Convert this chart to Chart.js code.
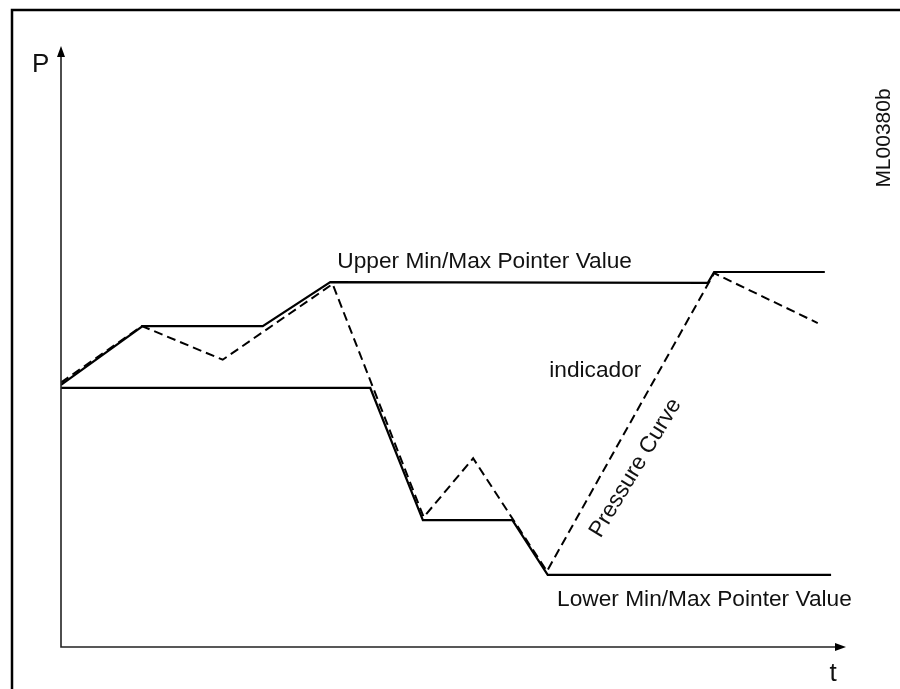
<!DOCTYPE html>
<html>
<head>
<meta charset="utf-8">
<script src="https://cdn.jsdelivr.net/npm/chart.js@4/dist/chart.umd.min.js"></script>
<style>
  body { margin: 0; background: #fff; }
  #chart { display: block; }
</style>
</head>
<body>
<canvas id="chart" width="900" height="689"></canvas>
<script>
// time axis runs 0..100, pressure axis 0..100 (arbitrary units)
const upperTimes = [0, 10.4, 25.7, 34.3, 82.4, 83.2, 97.3];
const upperValues = [43.6, 53.4, 53.4, 60.7, 60.6, 62.4, 62.4];

const lowerTimes = [0, 39.4, 46.1, 57.5, 62.0, 98.1];
const lowerValues = [43.1, 43.1, 21.1, 21.1, 12.0, 12.0];

const pressureTimes = [0, 10.3, 20.6, 34.6, 46.2, 52.5, 61.9, 83.2, 96.4];
const pressureValues = [44.0, 53.4, 47.8, 60.4, 21.6, 31.4, 12.6, 62.2, 53.9];

const FONT = '"Liberation Sans", Arial, Helvetica, sans-serif';

const toPoints = (ts, vs) => ts.map((t, i) => ({ x: t, y: vs[i] }));

// labels placed in data units
const notes = [
  { text: "Upper Min/Max Pointer Value", t: 35.2, p: 63.1, align: "left", rot: 0 },
  { text: "indicador", t: 62.2, p: 44.9, align: "left", rot: 0 },
  { text: "Lower Min/Max Pointer Value", t: 63.2, p: 6.8, align: "left", rot: 0 },
  { text: "Pressure Curve", t: 73.2, p: 29.8, align: "center", rot: -59 }
];

const decorations = {
  id: "decorations",
  afterDraw(chart) {
    const { ctx, chartArea: a, scales } = chart;
    ctx.save();

    // frame
    ctx.strokeStyle = "#000";
    ctx.lineWidth = 2.5;
    ctx.beginPath();
    ctx.moveTo(12, chart.height + 5);
    ctx.lineTo(12, 10);
    ctx.lineTo(chart.width + 5, 10);
    ctx.stroke();

    // axes with arrows
    ctx.strokeStyle = "#222";
    ctx.fillStyle = "#000";
    ctx.lineWidth = 1.6;
    ctx.beginPath();
    ctx.moveTo(a.left, a.top + 8);
    ctx.lineTo(a.left, a.bottom);
    ctx.lineTo(a.right - 8, a.bottom);
    ctx.stroke();
    ctx.beginPath();
    ctx.moveTo(a.left, a.top);
    ctx.lineTo(a.left - 4, a.top + 11);
    ctx.lineTo(a.left + 4, a.top + 11);
    ctx.closePath();
    ctx.fill();
    ctx.beginPath();
    ctx.moveTo(a.right, a.bottom);
    ctx.lineTo(a.right - 11, a.bottom - 4);
    ctx.lineTo(a.right - 11, a.bottom + 4);
    ctx.closePath();
    ctx.fill();

    ctx.fillStyle = "#111";
    ctx.textBaseline = "alphabetic";
    ctx.font = "26px " + FONT;
    ctx.textAlign = "left";
    ctx.fillText("P", a.left - 29, a.top + 26);
    ctx.textAlign = "center";
    ctx.fillText("t", a.right - 13, a.bottom + 34);

    ctx.font = "22.7px " + FONT;
    notes.forEach(n => {
      const x = scales.x.getPixelForValue(n.t);
      const y = scales.y.getPixelForValue(n.p);
      ctx.save();
      ctx.translate(x, y);
      ctx.rotate(n.rot * Math.PI / 180);
      ctx.textAlign = n.align;
      ctx.textBaseline = n.rot ? "middle" : "alphabetic";
      ctx.fillText(n.text, 0, 0);
      ctx.restore();
    });

    // drawing reference code
    ctx.save();
    ctx.font = "21px " + FONT;
    ctx.translate(884, 138);
    ctx.rotate(-Math.PI / 2);
    ctx.textAlign = "center";
    ctx.textBaseline = "middle";
    ctx.fillText("ML00380b", 0, 0);
    ctx.restore();

    ctx.restore();
  }
};

new Chart(document.getElementById("chart"), {
  type: "scatter",
  data: {
    datasets: [
      {
        label: "Upper Min/Max Pointer Value",
        data: toPoints(upperTimes, upperValues),
        showLine: true,
        borderColor: "#000",
        borderWidth: 2.2
      },
      {
        label: "Lower Min/Max Pointer Value",
        data: toPoints(lowerTimes, lowerValues),
        showLine: true,
        borderColor: "#000",
        borderWidth: 2.2
      },
      {
        label: "Pressure Curve",
        data: toPoints(pressureTimes, pressureValues),
        showLine: true,
        borderColor: "#000",
        borderWidth: 2,
        borderDash: [9, 5]
      }
    ]
  },
  options: {
    responsive: false,
    animation: false,
    elements: { point: { radius: 0, hoverRadius: 0 }, line: { tension: 0 } },
    layout: { padding: { left: 61, right: 54, top: 46, bottom: 42 } },
    scales: {
      x: { type: "linear", min: 0, max: 100, display: false },
      y: { type: "linear", min: 0, max: 100, display: false }
    },
    plugins: {
      legend: { display: false },
      tooltip: { enabled: false }
    }
  },
  plugins: [decorations]
});
</script>
</body>
</html>
